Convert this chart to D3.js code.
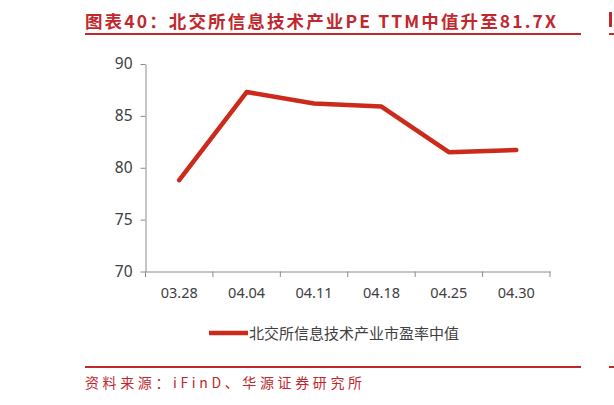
<!DOCTYPE html>
<html>
<head>
<meta charset="utf-8">
<script src="https://cdn.jsdelivr.net/npm/d3@7"></script>
<style>
  body { margin: 0; background: #fff; }
  svg { display: block; font-family: "Noto Sans CJK SC", "Noto Sans", sans-serif; }
</style>
</head>
<body>
<div id="graph"></div>
<script>
(function() {

  const dates = ["03.28", "04.04", "04.11", "04.18", "04.25", "04.30"]
  const peMedian = [78.8, 87.3, 86.2, 85.9, 81.5, 81.7]
  const yTicks = [70, 75, 80, 85, 90]
  const seriesName = "北交所信息技术产业市盈率中值"
  const titleText = "图表40：北交所信息技术产业PE TTM中值升至81.7X"
  const sourceText = "资料来源：iFinD、华源证券研究所"

  const red = "#c0282e"
  const lineRed = "#cc2a1a"

  const svg = d3.select("#graph")
    .append("svg")
      .attr("width", 614)
      .attr("height", 405)

  // header + footer
  svg.append("text")
    .attr("x", 85).attr("y", 28)
    .attr("fill", red)
    .attr("font-size", 17.5)
    .attr("font-weight", "bold")
    .attr("textLength", 471)
    .attr("lengthAdjust", "spacing")
    .text(titleText)

  svg.append("line")
    .attr("x1", 85).attr("x2", 581).attr("y1", 34).attr("y2", 34)
    .attr("stroke", red).attr("stroke-width", 2)
  svg.append("line")
    .attr("x1", 609).attr("x2", 614).attr("y1", 34).attr("y2", 34)
    .attr("stroke", red).attr("stroke-width", 2)
  svg.append("rect")
    .attr("x", 609).attr("y", 12).attr("width", 3).attr("height", 15)
    .attr("fill", red)

  svg.append("line")
    .attr("x1", 85).attr("x2", 581).attr("y1", 367).attr("y2", 367)
    .attr("stroke", red).attr("stroke-width", 2)
  svg.append("line")
    .attr("x1", 609).attr("x2", 614).attr("y1", 367).attr("y2", 367)
    .attr("stroke", red).attr("stroke-width", 2)

  svg.append("text")
    .attr("x", 85).attr("y", 388)
    .attr("fill", red)
    .attr("font-size", 14)
    .attr("textLength", 277)
    .attr("lengthAdjust", "spacing")
    .text(sourceText)

  // plot
  const x = d3.scaleBand()
    .domain(dates)
    .range([145.5, 550])

  const y = d3.scaleLinear()
    .domain([70, 90])
    .range([271.5, 64])

  const xAxis = svg.append("g")
    .attr("transform", "translate(0,271.5)")
    .call(d3.axisBottom(x).tickSizeOuter(0).tickSize(0).tickPadding(16))
  xAxis.selectAll(".tick line").remove()
  xAxis.selectAll("text")
    .attr("font-size", 14.5).attr("fill", "#404040")
    .attr("font-family", "Noto Sans, sans-serif")
  xAxis.select(".domain").attr("stroke", "#8c8c8c")

  // band edge ticks
  const edges = dates.map(d => x(d)).concat([x.range()[1]])
  svg.append("g").selectAll("line")
    .data(edges)
    .join("line")
      .attr("x1", d => d).attr("x2", d => d)
      .attr("y1", 271.5).attr("y2", 277)
      .attr("stroke", "#8c8c8c")

  const yAxis = svg.append("g")
    .attr("transform", "translate(145.5,0)")
    .call(d3.axisLeft(y).tickValues(yTicks).tickSize(5).tickPadding(8).tickSizeOuter(0))
  yAxis.selectAll("text")
    .attr("font-size", 15.5).attr("fill", "#404040")
    .attr("font-family", "Noto Sans, sans-serif")
  yAxis.selectAll("line, .domain").attr("stroke", "#8c8c8c")

  svg.append("path")
    .datum(peMedian)
    .attr("fill", "none")
    .attr("stroke", lineRed)
    .attr("stroke-width", 4.5)
    .attr("stroke-linejoin", "round")
    .attr("stroke-linecap", "round")
    .attr("d", d3.line()
      .x((d, i) => x(dates[i]) + x.bandwidth() / 2)
      .y(d => y(d)))

  // legend
  svg.append("line")
    .attr("x1", 209).attr("x2", 248).attr("y1", 333).attr("y2", 333)
    .attr("stroke", lineRed).attr("stroke-width", 4.5)
  svg.append("text")
    .attr("x", 249).attr("y", 338.5)
    .attr("font-size", 15)
    .attr("fill", "#404040")
    .text(seriesName)

})();
</script>
</body>
</html>
